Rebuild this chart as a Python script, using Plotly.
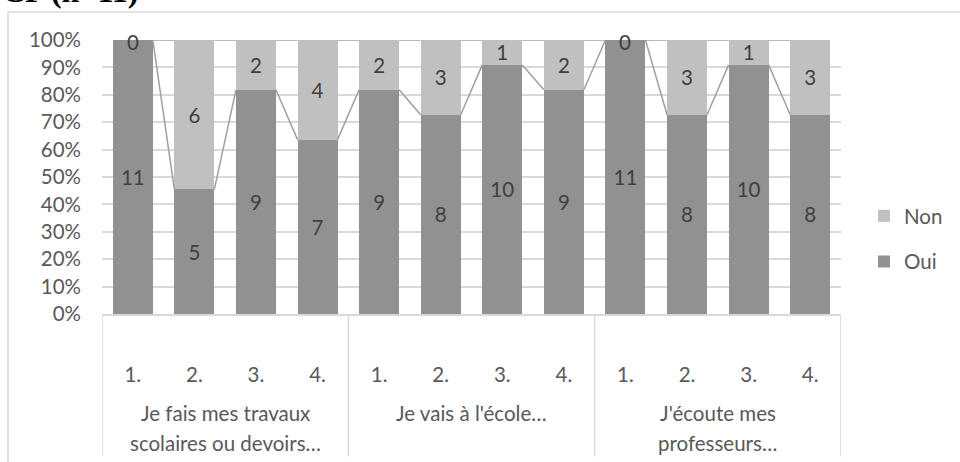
import plotly.graph_objects as go

groups = [["Je fais mes travaux", "scolaires ou devoirs…"], ["Je vais à l'école…"], ["J'écoute mes", "professeurs…"]]
items = ["1.", "2.", "3.", "4."]
oui = [11, 5, 9, 7, 9, 8, 10, 9, 11, 8, 10, 8]
non = [0, 6, 2, 4, 2, 3, 1, 2, 0, 3, 1, 3]
title = "CP (n=11)"

x = list(range(len(oui)))
ticktext = items * len(groups)
pct_oui = [o / (o + n) * 100 for o, n in zip(oui, non)]
bw = 0.65
FONT = "Lato"
fs = 20.5

fig = go.Figure()
fig.add_bar(x=x, y=oui, name="Oui", marker_color="#919191", marker_line_width=0,
            text=[str(v) if v else "" for v in oui], textposition="inside", textangle=0,
            insidetextanchor="middle", textfont=dict(color="#404040", size=fs, family=FONT),
            width=bw, legendgroup="a", legendrank=2, hoverinfo="skip")
fig.add_bar(x=x, y=non, name="Non", marker_color="#c0c0c0", marker_line_width=0,
            text=[str(v) if v else "" for v in non], textposition="inside", textangle=0,
            insidetextanchor="middle", textfont=dict(color="#404040", size=fs, family=FONT),
            width=bw, legendgroup="b", legendrank=1, hoverinfo="skip")

# series lines
lx, ly, tx, ty = [], [], [], []
for i in range(len(x) - 1):
    lx += [x[i] + bw / 2, x[i + 1] - bw / 2, None]
    ly += [pct_oui[i], pct_oui[i + 1], None]
    tx += [x[i] + bw / 2, x[i + 1] - bw / 2, None]
    ty += [100, 100, None]
fig.add_scatter(x=lx, y=ly, mode="lines", line=dict(color="#a0a0a0", width=1.5),
                showlegend=False, hoverinfo="skip")
fig.add_scatter(x=tx, y=ty, mode="lines", line=dict(color="#a0a0a0", width=1.5),
                showlegend=False, hoverinfo="skip")

# zero labels
for i, (o, n) in enumerate(zip(oui, non)):
    if n == 0:
        fig.add_annotation(x=x[i], y=100, text="0", showarrow=False, yanchor="middle",
                           yshift=-2, font=dict(color="#404040", size=fs, family=FONT))

# group labels and dividers
for g, lines in enumerate(groups):
    for k, line in enumerate(lines):
        fig.add_annotation(x=g * 4 + 1.5, y=-(413 + 30 * k - 314) / 274, yref="paper", text=line,
                           showarrow=False, yanchor="middle",
                           font=dict(color="#595959", size=fs, family=FONT))
for xb in [-0.5, 3.5, 7.5, 11.5]:
    fig.add_shape(type="line", x0=xb, x1=xb, y0=0, y1=-0.52, yref="paper",
                  line=dict(color="#d9d9d9", width=1.5))

# chart frame
fig.add_shape(type="rect", xref="paper", yref="paper",
              x0=(8 - 102) / 739, x1=1.2, y0=-0.6, y1=(314 - 12) / 274,
              line=dict(color="#d9d9d9", width=1.5), layer="below")

fig.add_annotation(xref="paper", yref="paper", x=(0 - 102) / 739, y=(314 - 11) / 274,
                   xanchor="left", yanchor="bottom", text="<b>" + title + "</b>", showarrow=False,
                   font=dict(family="Liberation Serif", size=32, color="black"))

fig.update_layout(
    width=960, height=462,
    margin=dict(l=102, r=119, t=40, b=148, autoexpand=False),
    barmode="stack", barnorm="percent",
    plot_bgcolor="white", paper_bgcolor="white",
    font=dict(family=FONT, size=fs, color="#595959"),
    showlegend=True,
    uniformtext=dict(minsize=fs, mode="show"),
    legend=dict(x=864 / 960, y=1 - 196 / 462, xref="container", yref="container",
                xanchor="left", yanchor="top", traceorder="grouped",
                tracegroupgap=16, font=dict(size=fs, color="#595959", family=FONT),
                itemwidth=30),
    xaxis=dict(range=[-0.5, 11.5], tickvals=x, ticktext=ticktext, showgrid=False,
               zeroline=False, showline=True, linecolor="#d9d9d9", linewidth=1.5,
               ticks="", ticklabelstandoff=42, automargin=False,
               tickfont=dict(size=fs, color="#595959")),
    yaxis=dict(range=[0, 100], dtick=10, ticksuffix="%", showgrid=True, gridcolor="#d9d9d9",
               gridwidth=1.5, zeroline=False, showline=False, ticks="", automargin=False,
               ticklabelstandoff=20, tickfont=dict(size=fs, color="#595959")),
)

fig.write_html("out.html", config={"displayModeBar": False},
               post_script="document.body.style.margin='0';")
